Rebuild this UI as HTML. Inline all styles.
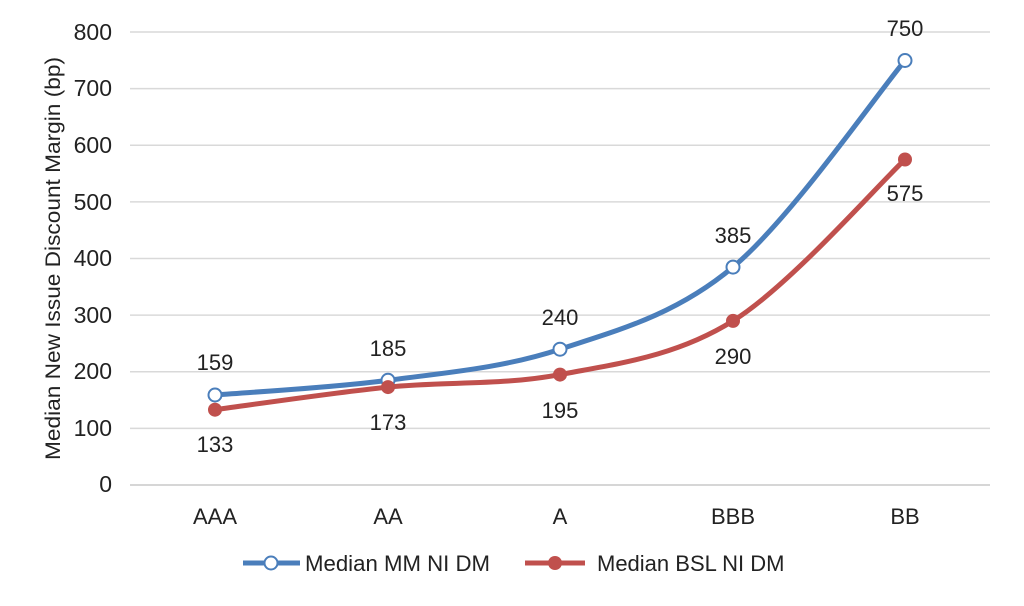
<!DOCTYPE html>
<html><head><meta charset="utf-8"><style>body{margin:0;background:#fff}</style></head><body>
<svg width="1024" height="601" xmlns="http://www.w3.org/2000/svg" font-family="Liberation Sans, sans-serif" fill="#222">
<g stroke="#d9d9d9" stroke-width="1.5">
<line x1="130" x2="990" y1="32" y2="32"/><line x1="130" x2="990" y1="88.6" y2="88.6"/><line x1="130" x2="990" y1="145.2" y2="145.2"/><line x1="130" x2="990" y1="201.9" y2="201.9"/><line x1="130" x2="990" y1="258.5" y2="258.5"/><line x1="130" x2="990" y1="315.1" y2="315.1"/><line x1="130" x2="990" y1="371.8" y2="371.8"/><line x1="130" x2="990" y1="428.4" y2="428.4"/>
</g>
<line x1="130" x2="990" y1="485" y2="485" stroke="#c8c8c8" stroke-width="1.5"/>
<g font-size="23" text-anchor="end">
<text x="112" y="40">800</text><text x="112" y="96">700</text><text x="112" y="153">600</text><text x="112" y="210">500</text><text x="112" y="266">400</text><text x="112" y="323">300</text><text x="112" y="379">200</text><text x="112" y="436">100</text><text x="112" y="492">0</text>
</g>
<text transform="translate(60,460) rotate(-90)" font-size="21" textLength="403" lengthAdjust="spacingAndGlyphs">Median New Issue Discount Margin (bp)</text>
<g font-size="22" text-anchor="middle">
<text x="215" y="524">AAA</text><text x="388" y="524">AA</text><text x="560" y="524">A</text><text x="733" y="524">BBB</text><text x="905" y="524">BB</text>
</g>
<path d="M215,395 C243.8,392.55 330.5,387.9 388,380.3 C445.5,372.7 502.5,368.1 560,349.2 C617.5,330.3 675.5,315.2 733,267.1 C790.5,219 876.3,94.9 905,60.5" fill="none" stroke="#4a7ebb" stroke-width="5"/>
<path d="M215,409.7 C243.8,405.9 330.5,393 388,387.1 C445.5,381.25 502.5,385.6 560,374.6 C617.5,363.6 675.5,356.8 733,320.9 C790.5,285.1 876.3,186.4 905,159.5" fill="none" stroke="#c0504d" stroke-width="5"/>
<g fill="#fff" stroke="#4a7ebb" stroke-width="2">
<circle cx="215" cy="395" r="6.5"/><circle cx="388" cy="380.3" r="6.5"/><circle cx="560" cy="349.2" r="6.5"/><circle cx="733" cy="267.1" r="6.5"/><circle cx="905" cy="60.5" r="6.5"/>
</g>
<g fill="#c0504d">
<circle cx="215" cy="409.7" r="7"/><circle cx="388" cy="387.1" r="7"/><circle cx="560" cy="374.6" r="7"/><circle cx="733" cy="320.9" r="7"/><circle cx="905" cy="159.5" r="7"/>
</g>
<g font-size="22" text-anchor="middle">
<text x="215" y="370">159</text><text x="388" y="356">185</text><text x="560" y="325">240</text><text x="733" y="243">385</text><text x="905" y="36">750</text>
<text x="215" y="452">133</text><text x="388" y="430">173</text><text x="560" y="418">195</text><text x="733" y="364">290</text><text x="905" y="201">575</text>
</g>
<line x1="243" x2="300" y1="563" y2="563" stroke="#4a7ebb" stroke-width="5"/>
<circle cx="271" cy="563" r="6.5" fill="#fff" stroke="#4a7ebb" stroke-width="2"/>
<text x="305" y="571" font-size="22" textLength="185" lengthAdjust="spacingAndGlyphs">Median MM NI DM</text>
<line x1="525" x2="585" y1="563" y2="563" stroke="#c0504d" stroke-width="5"/>
<circle cx="555" cy="563" r="7" fill="#c0504d"/>
<text x="597" y="571" font-size="22">Median BSL NI DM</text>
</svg>
</body></html>
